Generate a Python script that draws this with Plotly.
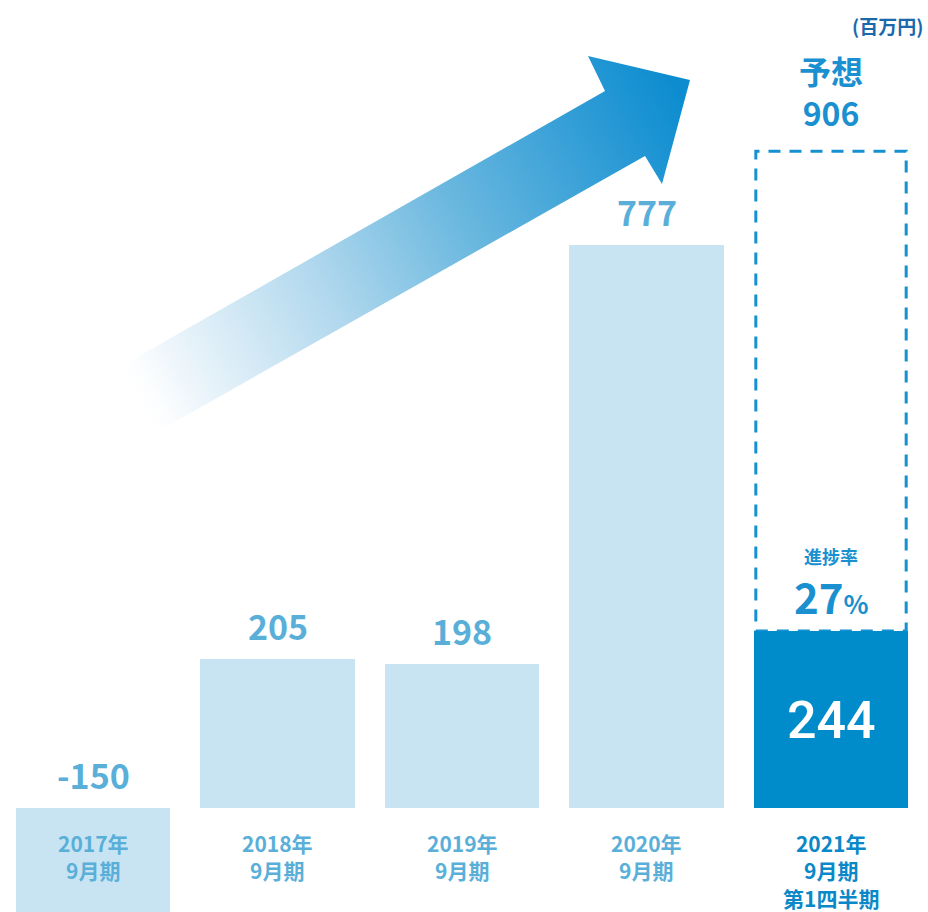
import base64
import plotly.graph_objects as go

# ---- data ----
categories = ["2017年<br>9月期", "2018年<br>9月期", "2019年<br>9月期", "2020年<br>9月期", "2021年<br>9月期<br>第1四半期"]
values = [-150, 205, 198, 777, 244]
value_labels = ["-150", "205", "198", "777", "244"]
forecast_value = 906
progress_pct = 27
unit_label = "(百万円)"

# ---- styles ----
LIGHT_BAR = "#c8e4f3"
DARK_BAR = "#008bcb"
LIGHT_TEXT = "#5aafd9"
DARK_TEXT = "#0a88c8"
FONT = "Noto Sans CJK JP, Noto Sans, sans-serif"
W, H = 928, 912
BAR_W = 0.835

x_pos = list(range(len(values)))
colors = [LIGHT_BAR] * (len(values) - 1) + [DARK_BAR]

fig = go.Figure()
fig.add_trace(go.Bar(
    x=x_pos, y=values, width=BAR_W,
    marker=dict(color=colors, line=dict(width=0)),
    hoverinfo="skip", showlegend=False,
))

# forecast dashed outline for the last bar
last = x_pos[-1]
fig.add_shape(type="rect", xref="x", yref="y",
              x0=last - BAR_W / 2 + 0.01, x1=last + BAR_W / 2 - 0.01,
              y0=values[-1], y1=forecast_value,
              line=dict(color="#1590d0", width=3, dash="12px,9px"),
              fillcolor="rgba(0,0,0,0)", layer="below")

annotations = []
# value labels above light bars
for i, (v, lab) in enumerate(zip(values[:-1], value_labels[:-1])):
    annotations.append(dict(
        x=i, y=max(v, 0), xref="x", yref="y", text=f"<b>{lab}</b>",
        showarrow=False, yanchor="bottom", yshift=7,
        font=dict(family=FONT, size=34, color=LIGHT_TEXT)))

# value in dark bar
annotations.append(dict(
    x=last, y=values[-1] / 2, xref="x", yref="y", text=value_labels[-1],
    showarrow=False, yanchor="middle", yshift=-1,
    font=dict(family="Roboto, Liberation Sans, sans-serif", size=52, color="white", weight=500)))

# forecast label
annotations.append(dict(
    x=last, y=forecast_value, xref="x", yref="y",
    text=f"<b>予想<br>{forecast_value}</b>",
    showarrow=False, yanchor="bottom", yshift=14,
    font=dict(family=FONT, size=32, color="#1a90d0")))

# progress label
annotations.append(dict(
    x=last, y=values[-1], xref="x", yref="y",
    text="<b>進捗率</b>",
    showarrow=False, yanchor="bottom", yshift=60,
    font=dict(family=FONT, size=18, color="#1a90d0")))
annotations.append(dict(
    x=last, y=values[-1], xref="x", yref="y",
    text=f"<b>{progress_pct}</b><span style='font-size:26px'><b>%</b></span>",
    showarrow=False, yanchor="bottom", yshift=3,
    font=dict(family=FONT, size=42, color="#1a90d0")))

# category labels
for i, c in enumerate(categories):
    annotations.append(dict(
        x=i, y=0, xref="x", yref="y", text=f"<b>{c}</b>",
        showarrow=False, yanchor="top", yshift=-18,
        font=dict(family=FONT, size=21, color=DARK_TEXT if i == last else LIGHT_TEXT)))

# unit label
annotations.append(dict(
    x=1, y=1, xref="paper", yref="paper", text=f"<b>{unit_label}</b>",
    showarrow=False, xanchor="right", yanchor="top", xshift=-3, yshift=-10,
    font=dict(family=FONT, size=19, color="#1a6aab")))

# ---- decorative gradient arrow (SVG image) ----
arrow_pts = [(118, 368), (605, 91), (588, 56), (690, 80), (662, 184), (645, 156), (155, 433)]
pts = " ".join(f"{x},{y}" for x, y in arrow_pts)
svg = f"""<svg xmlns='http://www.w3.org/2000/svg' width='{W}' height='{H}' viewBox='0 0 {W} {H}'>
<defs><linearGradient id='g' gradientUnits='userSpaceOnUse' x1='130' y1='405' x2='680' y2='100'>
<stop offset='0' stop-color='#ffffff' stop-opacity='0'/>
<stop offset='0.08' stop-color='#f2f8fc' stop-opacity='1'/>
<stop offset='0.35' stop-color='#b3d9ee'/>
<stop offset='0.6' stop-color='#6bb8df'/>
<stop offset='0.85' stop-color='#2f9cd6'/>
<stop offset='1' stop-color='#0d8dd0'/>
</linearGradient></defs>
<polygon points='{pts}' fill='url(#g)'/>
</svg>"""
src = "data:image/svg+xml;base64," + base64.b64encode(svg.encode()).decode()

fig.update_layout(
    width=W, height=H,
    margin=dict(l=0, r=0, t=0, b=0),
    paper_bgcolor="white", plot_bgcolor="rgba(0,0,0,0)",
    annotations=annotations,
    images=[dict(source=src, xref="paper", yref="paper", x=0, y=1, sizex=1, sizey=1,
                 xanchor="left", yanchor="top", sizing="stretch", layer="above")],
    xaxis=dict(range=[-93 / 184.5, (W - 93) / 184.5], visible=False, fixedrange=True),
    yaxis=dict(range=[-104 / 0.725, 808 / 0.725], visible=False, fixedrange=True),
    bargap=0,
)

fig.write_html("out.html", config={"displayModeBar": False})
